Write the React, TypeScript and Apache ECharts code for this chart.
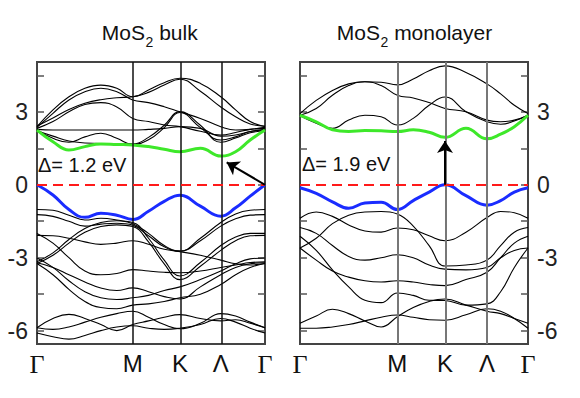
import React, { useEffect, useRef } from 'react';
import * as echarts from 'echarts';

// High-symmetry points
const symLabels = ['Γ', 'M', 'K', 'Λ', 'Γ'];
const symLeft = [0, 0.42, 0.627, 0.806, 1];
const symRight = [0, 0.427, 0.636, 0.82, 1];

// k-sample positions along the path (normalised)
const kLeft = [0, 0.07, 0.14, 0.21, 0.28, 0.35, 0.42, 0.489, 0.558, 0.627, 0.7165, 0.806, 0.871, 0.935, 1];
const kRight = [0, 0.0712, 0.1423, 0.2135, 0.2847, 0.3558, 0.427, 0.4967, 0.5663, 0.636, 0.728, 0.82, 0.88, 0.94, 1];

const yTicks = [-6, -4.5, -3, -1.5, 0, 1.5, 3, 4.5];
const yLabels = [-6, -3, 0, 3];

// ---- MoS2 bulk (eV) ----
const bulkCBM = [2.25, 1.77, 1.43, 1.57, 1.68, 1.66, 1.64, 1.57, 1.46, 1.36, 1.5, 1.18, 1.36, 1.84, 2.25];
const bulkVBM = [0, -0.42, -1.02, -1.34, -1.17, -1.25, -1.43, -1.09, -0.68, -0.43, -0.88, -1.29, -0.95, -0.47, 0];
const bulkC1 = [2.39, 3.08, 3.62, 3.97, 4.1, 3.97, 3.62, 3.9, 4.2, 4.38, 4.17, 3.62, 3.08, 2.6, 2.39];
const bulkC2 = [2.36, 2.94, 3.49, 3.83, 3.97, 3.83, 3.49, 3.38, 3.21, 3.0, 2.73, 2.39, 2.25, 2.28, 2.36];
const bulkC3 = [2.42, 2.75, 3.1, 3.35, 3.5, 3.58, 3.62, 3.8, 4.1, 4.34, 3.85, 3.2, 2.8, 2.5, 2.42];
const bulkC4 = [2.32, 2.6, 3.0, 3.3, 3.38, 3.2, 2.73, 2.6, 2.46, 2.39, 2.2, 2.05, 2.15, 2.28, 2.32];
const bulkC5 = [2.28, 2.25, 2.25, 2.25, 2.25, 2.25, 2.25, 2.28, 2.32, 2.39, 2.32, 2.0, 2.05, 2.19, 2.28];
const bulkC6 = [2.25, 1.91, 1.75, 1.97, 2.12, 1.91, 1.66, 1.85, 2.35, 2.97, 2.35, 1.84, 1.97, 2.19, 2.25];
const bulkC7 = [2.22, 2.0, 1.8, 1.72, 1.7, 1.7, 1.68, 1.95, 2.45, 3.01, 2.45, 1.75, 1.92, 2.14, 2.22];
const bulkV1 = [-1.02, -1.05, -1.25, -1.45, -1.38, -1.45, -1.6, -2.0, -2.5, -2.73, -2.2, -1.55, -1.2, -1.05, -1.02];
const bulkV2 = [-1.23, -1.3, -1.5, -1.7, -1.62, -1.58, -1.66, -2.1, -2.55, -2.73, -2.3, -1.7, -1.4, -1.25, -1.23];
const bulkV3 = [-3.17, -2.8, -2.25, -1.8, -1.55, -1.48, -1.55, -2.2, -3.1, -3.75, -3.2, -2.5, -2.15, -2.0, -2.0];
const bulkV4 = [-3.24, -2.9, -2.4, -1.95, -1.72, -1.65, -1.72, -2.35, -3.25, -3.9, -3.35, -2.7, -2.3, -2.1, -2.08];
const bulkV5 = [-2.0, -2.4, -3.0, -3.55, -3.7, -3.65, -3.49, -3.55, -3.6, -3.62, -3.55, -3.4, -3.3, -3.2, -3.17];
const bulkV6 = [-2.08, -2.1, -2.2, -2.35, -2.45, -2.4, -2.3, -2.45, -2.65, -2.75, -2.9, -3.1, -3.25, -3.3, -3.24];
const bulkV7 = [-3.21, -3.4, -3.7, -4.0, -4.25, -4.35, -4.24, -4.4, -4.6, -4.7, -4.2, -3.7, -3.4, -3.25, -3.21];
const bulkV8 = [-3.01, -3.4, -3.95, -4.4, -4.65, -4.72, -4.65, -4.55, -4.35, -4.2, -3.9, -3.55, -3.25, -3.05, -3.01];
const bulkV9 = [-5.88, -5.5, -5.33, -5.5, -5.75, -6.0, -5.75, -5.6, -5.45, -5.34, -5.5, -5.6, -5.55, -5.7, -5.88];
const bulkV10 = [-6.1, -6.25, -6.35, -6.2, -6.0, -5.85, -5.8, -5.9, -5.95, -5.9, -5.75, -5.5, -5.65, -5.9, -6.1];
const bulkV11 = [-3.24, -3.7, -4.3, -4.8, -5.05, -5.1, -4.95, -4.9, -4.8, -4.65, -4.5, -4.1, -3.7, -3.4, -3.24];
const bulkV12 = [-5.88, -5.95, -5.85, -5.65, -5.45, -5.3, -5.2, -5.45, -5.75, -5.92, -5.7, -5.3, -5.4, -5.65, -5.88];

// ---- MoS2 monolayer (eV) ----
const monoCBM = [2.86, 2.59, 2.26, 2.19, 2.23, 2.22, 2.19, 2.26, 2.16, 1.95, 2.32, 1.89, 2.08, 2.39, 2.86];
const monoVBM = [-0.12, -0.35, -0.7, -0.97, -0.75, -0.72, -1.02, -0.65, -0.3, 0, -0.45, -0.84, -0.65, -0.3, -0.12];
const monoC1 = [2.93, 3.47, 3.88, 4.15, 4.24, 4.22, 4.11, 4.35, 4.69, 4.89, 4.62, 4.15, 3.74, 3.27, 2.93];
const monoC2 = [2.86, 3.14, 3.68, 4.08, 4.24, 4.08, 3.68, 3.57, 3.38, 3.14, 3.0, 2.66, 2.59, 2.66, 2.86];
const monoC3 = [2.84, 2.53, 2.32, 2.66, 2.86, 2.8, 2.46, 2.73, 3.27, 3.61, 3.0, 2.59, 2.49, 2.62, 2.86];
const monoV1 = [-1.38, -1.12, -1.3, -1.65, -1.9, -1.95, -1.78, -1.85, -2.1, -2.3, -1.95, -1.35, -1.1, -1.15, -1.38];
const monoV2 = [-2.6, -2.2, -1.6, -1.25, -1.12, -1.1, -1.2, -1.7, -2.5, -3.34, -3.3, -3.1, -2.5, -1.95, -1.76];
const monoV3 = [-1.76, -2.0, -2.5, -2.95, -3.1, -3.0, -2.88, -3.0, -3.3, -3.47, -3.5, -3.4, -3.0, -2.7, -2.6];
const monoV4 = [-2.12, -2.7, -3.5, -4.2, -4.75, -4.85, -4.45, -4.55, -4.75, -4.76, -4.95, -4.9, -4.4, -3.4, -2.6];
const monoV5 = [-2.6, -3.1, -3.55, -3.8, -3.95, -4.0, -3.95, -4.0, -4.1, -4.15, -3.9, -3.6, -3.0, -2.4, -2.12];
const monoV6 = [-5.7, -5.4, -5.12, -5.3, -5.6, -5.85, -5.43, -5.05, -4.8, -4.7, -4.95, -5.2, -5.3, -5.5, -5.7];
const monoV7 = [-5.9, -5.9, -5.85, -5.75, -5.6, -5.45, -5.36, -5.45, -5.55, -5.57, -5.35, -5.1, -5.2, -5.5, -5.9];

// Gap arrows [k, E]
const bulkArrow = [[1, 0], [0.832, 0.92]];
const monoArrow = [[0.636, 0], [0.636, 1.8]];

const FONT = 'Liberation Sans, Arial, sans-serif';
const Y_MIN = -6.55;
const Y_MAX = 5.05;

function band(k: number[], e: number[], panel: number, color: string, width: number, z: number, extra: any = {}) {
  return {
    type: 'line',
    xAxisIndex: panel,
    yAxisIndex: panel * 2,
    data: k.map((x, i) => [x, e[i]]),
    smooth: 0.45,
    symbol: 'none',
    silent: true,
    lineStyle: { color, width },
    z,
    ...extra,
  };
}

function xAxisFor(panel: number, sym: number[]) {
  return {
    type: 'value',
    gridIndex: panel,
    min: 0,
    max: 1,
    axisLine: { show: false },
    axisTick: { show: false },
    splitLine: { show: false },
    axisLabel: {
      customValues: sym,
      margin: 7,
      fontSize: 24,
      fontFamily: FONT,
      color: '#111',
      formatter: (v: number) => {
        const i = sym.findIndex((s) => Math.abs(s - v) < 1e-6);
        const t = symLabels[i < 0 ? 0 : i];
        return t === 'Γ' ? '{g|Γ}' : '{s|' + t + '}';
      },
      rich: {
        g: { fontFamily: 'Liberation Serif, Times New Roman, serif', fontSize: 26, color: '#111' },
        s: { fontFamily: FONT, fontSize: 24, color: '#111' },
      },
    },
  };
}

function yAxisFor(panel: number, position: string, showLabel: boolean) {
  return {
    type: 'value',
    gridIndex: panel,
    position,
    min: Y_MIN,
    max: Y_MAX,
    axisLine: { show: false },
    splitLine: { show: false },
    axisTick: {
      show: true,
      inside: true,
      length: 7,
      customValues: yTicks,
      lineStyle: { color: '#555', width: 1.5 },
    },
    axisLabel: {
      show: showLabel,
      customValues: yLabels,
      margin: 9,
      fontSize: 23,
      fontFamily: FONT,
      color: '#222',
      formatter: (v: number) => String(v),
    },
  };
}

function vLines(sym: number[], color: string, width: number) {
  return {
    silent: true,
    symbol: ['none', 'none'],
    label: { show: false },
    lineStyle: { color, width, type: 'solid' },
    data: sym.slice(1, 4).map((s) => ({ xAxis: s })),
  };
}

function zeroLine() {
  return {
    silent: true,
    symbol: ['none', 'none'],
    label: { show: false },
    lineStyle: { color: '#ff1a1a', width: 2.2, type: [10, 6] },
    data: [{ yAxis: 0 }],
  };
}

function arrow(a: number[][]) {
  return {
    silent: true,
    symbol: ['none', 'arrow'],
    symbolSize: 12,
    label: { show: false },
    lineStyle: { color: '#000', width: 2, type: 'solid' },
    data: [[{ coord: a[0] }, { coord: a[1] }]],
  };
}

// Title pieces: "MoS" + subscript "2" + rest
function titleParts(rest: string, x0: number) {
  return [
    {
      type: 'text',
      silent: true,
      style: { text: 'MoS', x: x0, y: 32, align: 'right', verticalAlign: 'middle', fontSize: 21, fontFamily: FONT, fill: '#111' },
    },
    {
      type: 'text',
      silent: true,
      style: { text: '2', x: x0 + 0.5, y: 41.5, align: 'left', verticalAlign: 'middle', fontSize: 14, fontFamily: FONT, fill: '#111' },
    },
    {
      type: 'text',
      silent: true,
      style: { text: ' ' + rest, x: x0 + 8.3, y: 32, align: 'left', verticalAlign: 'middle', fontSize: 21, fontFamily: FONT, fill: '#111' },
    },
  ];
}

function gapText(text: string, x: number, y: number) {
  return {
    type: 'text',
    silent: true,
    style: { text, x, y, fontSize: 20, fontFamily: FONT, fill: '#111', align: 'left', verticalAlign: 'middle' },
  };
}

export default function App() {
  const ref = useRef<HTMLDivElement>(null);

  useEffect(() => {
    if (!ref.current) return;
    const chart = echarts.init(ref.current, undefined, { renderer: 'svg' });

    const bulkCond = [bulkC1, bulkC2, bulkC3, bulkC4, bulkC5, bulkC6, bulkC7];
    const bulkVal = [bulkV1, bulkV2, bulkV3, bulkV4, bulkV5, bulkV6, bulkV7, bulkV8, bulkV9, bulkV10, bulkV11, bulkV12];
    const monoCond = [monoC1, monoC2, monoC3];
    const monoVal = [monoV1, monoV2, monoV3, monoV4, monoV5, monoV6, monoV7];

    const series: any[] = [];
    // left panel
    series.push(band(kLeft, bulkC1, 0, '#000', 1.1, 2, { markLine: vLines(symLeft, '#111', 1.5) }));
    bulkCond.slice(1).forEach((b) => series.push(band(kLeft, b, 0, '#000', 1.1, 2)));
    bulkVal.forEach((b) => series.push(band(kLeft, b, 0, '#000', 1.1, 2)));
    series.push(band(kLeft, bulkCBM, 0, '#3ee82a', 3, 3, { markLine: zeroLine() }));
    series.push(band(kLeft, bulkVBM, 0, '#1a2cff', 3, 3, { markLine: arrow(bulkArrow) }));
    // right panel
    series.push(band(kRight, monoC1, 1, '#000', 1.1, 2, { markLine: vLines(symRight, '#777', 2) }));
    monoCond.slice(1).forEach((b) => series.push(band(kRight, b, 1, '#000', 1.1, 2)));
    monoVal.forEach((b) => series.push(band(kRight, b, 1, '#000', 1.1, 2)));
    series.push(band(kRight, monoCBM, 1, '#3ee82a', 3, 3, { markLine: zeroLine() }));
    series.push(band(kRight, monoVBM, 1, '#1a2cff', 3, 3, { markLine: arrow(monoArrow) }));

    chart.setOption({
      animation: false,
      backgroundColor: '#fff',
      grid: [
        { left: 37, top: 62, width: 228, height: 282, show: true, borderColor: '#444', borderWidth: 2, backgroundColor: 'transparent' },
        { left: 300, top: 62, width: 228, height: 282, show: true, borderColor: '#444', borderWidth: 2, backgroundColor: 'transparent' },
      ],
      xAxis: [xAxisFor(0, symLeft), xAxisFor(1, symRight)],
      yAxis: [
        yAxisFor(0, 'left', true),
        yAxisFor(0, 'right', false),
        yAxisFor(1, 'left', false),
        yAxisFor(1, 'right', true),
      ],
      series,
      graphic: [
        ...titleParts('bulk', 145),
        ...titleParts('monolayer', 380),
        gapText('Δ= 1.2 eV', 38, 165),
        gapText('Δ= 1.9 eV', 302, 164),
      ],
    });

    return () => chart.dispose();
  }, []);

  return <div ref={ref} style={{ position: 'fixed', left: 0, top: 0, width: 580, height: 398 }} />;
}
